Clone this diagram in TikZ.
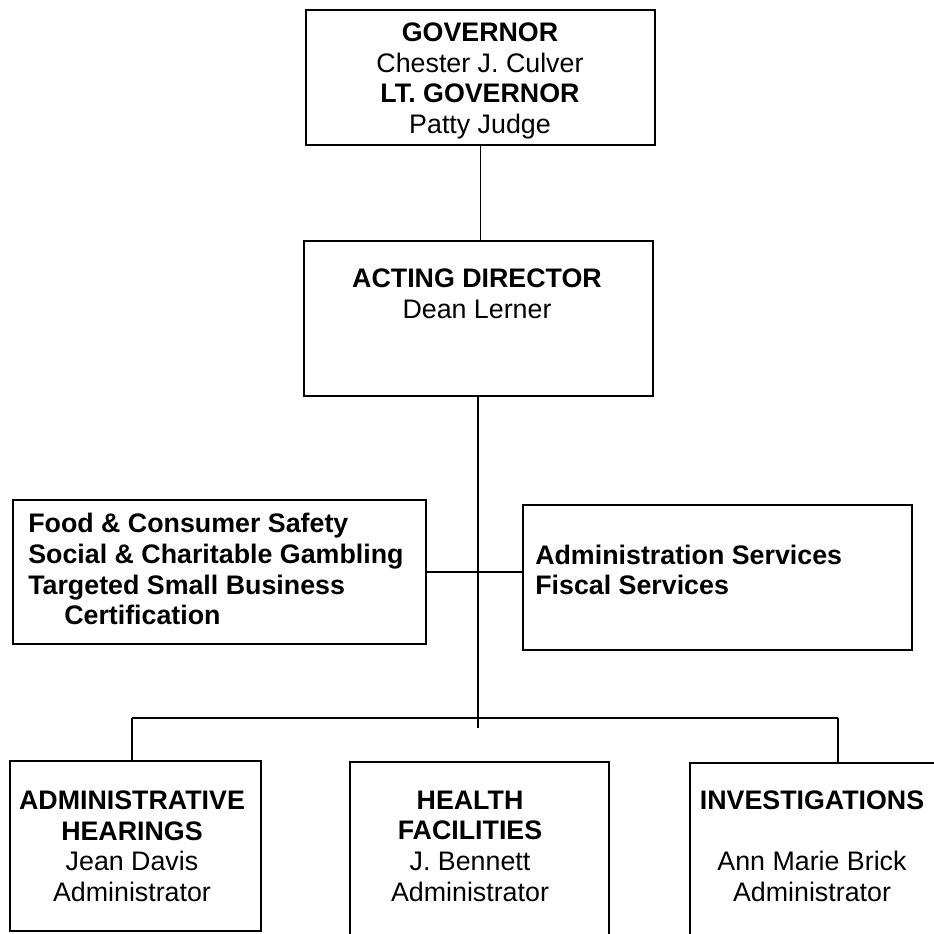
\documentclass[tikz,border=0pt]{standalone}
\usepackage{fontspec}
\setmainfont{Liberation Sans}
\usetikzlibrary{fit}
\tikzset{
    unitbox/.style={draw,line width=1.6pt,inner sep=0pt},
    boxtext/.style={font=\fontsize{20.1}{23}\selectfont,inner sep=0pt,align=center,anchor=north},
    sidetext/.style={boxtext,align=left,anchor=north west,font=\fontsize{20.1}{23}\selectfont\bfseries},
    link/.style={line width=1.4pt},
}

\begin{document}
\begin{tikzpicture}[x=0.75pt,y=-0.75pt]
            \clip (0,0) rectangle (934,934);
            \fill[white] (0,0) rectangle (934,934);
            \node[unitbox,fit={(306,10) (655,145)}] (gov) {};
            \node[unitbox,fit={(304,241) (653,396)}] (dir) {};
            \node[unitbox,fit={(13,500) (426,644)}] (food) {};
            \node[unitbox,fit={(523,505) (912,650)}] (admin) {};
            \node[unitbox,fit={(10,761) (261,931)}] (hear) {};
            \node[unitbox,fit={(350,762) (609,980)}] (health) {};
            \node[unitbox,fit={(690,763) (980,980)}] (inv) {};
            \node[boxtext] (govtxt) at (480,22.5) {\textbf{GOVERNOR}\\ Chester J. Culver\\ \textbf{LT. GOVERNOR}\\ Patty Judge};
            \node[boxtext] (dirtxt) at (477,268.5) {\textbf{ACTING DIRECTOR}\\ Dean Lerner};
            \node[sidetext] (foodtxt) at (28,513.3) {Food \& Consumer Safety\\ Social \& Charitable Gambling\\ Targeted Small Business\\ \hspace*{27pt}Certification};
            \node[sidetext] (admintxt) at (535,544.5) {Administration Services\\ Fiscal Services};
            \node[boxtext] (heartxt) at (132,790.5) {\textbf{ADMINISTRATIVE}\\ \textbf{HEARINGS}\\ Jean Davis\\ Administrator};
            \node[boxtext] (healthtxt) at (470,790.5) {\textbf{HEALTH}\\ \textbf{FACILITIES}\\ J. Bennett\\ Administrator};
            \node[boxtext] (invtxt) at (812,790.5) {\textbf{INVESTIGATIONS}\\ \mbox{}\\ Ann Marie Brick\\ Administrator};
            \coordinate (trunk) at (478,728);
            \coordinate (busL) at (132,718);
            \coordinate (busR) at (838,718);
            \draw[link] (gov.south) -- (gov.south |- dir.north);
            \draw[link] (dir.south -| trunk) -- (trunk);
            \draw[link] (food.east) -- (food.east -| admin.west);
            \draw[link] (busL) -- (busR);
            \draw[link] (busL) -- (busL |- hear.north);
            \draw[link] (busR) -- (busR |- inv.north);
        \end{tikzpicture}
\end{document}
